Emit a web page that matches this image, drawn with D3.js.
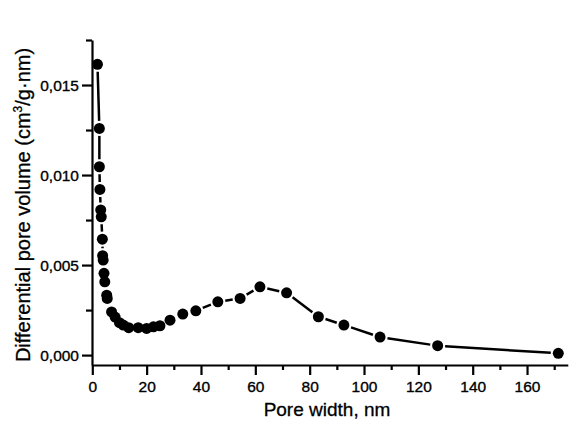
<!DOCTYPE html>
<html><head><meta charset="utf-8">
<script src="https://cdn.jsdelivr.net/npm/d3@7"></script>
<style>body{margin:0;background:#fff}svg{display:block}text{font-family:Arial,"Liberation Sans",sans-serif;fill:#000}</style>
</head><body><svg id="c" width="569" height="421"></svg>
<script>
const poreWidth = [1.9,2.6,2.6,2.8,3.1,3.3,3.7,3.8,4.0,4.3,4.6,5.3,5.5,7.1,8.4,10.0,11.4,13.4,16.9,20.0,22.5,24.9,28.6,33.3,38.1,46.2,54.4,61.7,71.5,83.2,92.6,105.9,127.1,171.5];
const diffVolume = [0.01615,0.01259,0.01046,0.0092,0.00806,0.00768,0.00644,0.00552,0.00528,0.00454,0.00407,0.00333,0.00315,0.0024,0.00211,0.0018,0.00167,0.00152,0.00152,0.00148,0.00157,0.00163,0.00194,0.00228,0.00246,0.00296,0.00315,0.00379,0.00346,0.00213,0.00167,0.001,0.00052,0.0001];
const xTickValues = [0,20,40,60,80,100,120,140,160];
const xMinorValues = [10,30,50,70,90,110,130,150,170];
const yTickValues = [0,0.005,0.010,0.015];
const yTickLabels = ["0,000","0,005","0,010","0,015"];
const yMinorValues = [0.0025,0.0075,0.0125,0.0175];
const xTitle = "Pore width, nm";

const svg = d3.select("#c");
const x = d3.scaleLinear().domain([0,175]).range([92.3,567.8]);
const y = d3.scaleLinear().domain([-0.00055,0.0175]).range([365,40]);

const gx = svg.append("g").attr("transform","translate(0,365)");
gx.call(d3.axisBottom(x).tickValues(xTickValues).tickSize(10).tickSizeOuter(0).tickFormat(d3.format("d")));
gx.append("g").call(d3.axisBottom(x).tickValues(xMinorValues).tickSize(5).tickFormat(""));
gx.selectAll("g > g path.domain").remove();
gx.selectAll("path.domain").attr("stroke","#000").attr("stroke-width",2.2);
gx.selectAll(".tick line").attr("stroke","#000").attr("stroke-width",2.2);
gx.selectAll(".tick text").attr("font-size",15.5).attr("dy",0).attr("y",27)
  .attr("stroke","#000").attr("stroke-width",0.35)
  .attr("font-family","Arial, 'Liberation Sans', sans-serif");

const gy = svg.append("g").attr("transform","translate(92,0)");
gy.call(d3.axisLeft(y).tickValues(yTickValues).tickSize(10).tickSizeOuter(0).tickFormat((d,i)=>yTickLabels[i]));
gy.append("g").call(d3.axisLeft(y).tickValues(yMinorValues).tickSize(6).tickFormat(""));
gy.selectAll("g > g path.domain").remove();
gy.selectAll("path.domain").attr("stroke","#000").attr("stroke-width",2.2);
gy.selectAll(".tick line").attr("stroke","#000").attr("stroke-width",2.2);
gy.selectAll(".tick text").attr("font-size",15.5).attr("x",-13).attr("dy","0.35em")
  .attr("stroke","#000").attr("stroke-width",0.35)
  .attr("font-family","Arial, 'Liberation Sans', sans-serif");

// line with gaps near markers
const pts = poreWidth.map((d,i)=>[x(d), y(diffVolume[i])]);
const gap = 7.5;
const segs = [];
for (let i=0;i<pts.length-1;i++){
  const [x1,y1]=pts[i],[x2,y2]=pts[i+1];
  const L=Math.hypot(x2-x1,y2-y1);
  if (L>2*gap+1){
    const ux=(x2-x1)/L, uy=(y2-y1)/L;
    segs.push([x1+ux*gap,y1+uy*gap,x2-ux*gap,y2-uy*gap]);
  }
}
svg.append("g").selectAll("line").data(segs).join("line")
  .attr("x1",d=>d[0]).attr("y1",d=>d[1]).attr("x2",d=>d[2]).attr("y2",d=>d[3])
  .attr("stroke","#000").attr("stroke-width",2.5);

svg.append("g").selectAll("circle").data(poreWidth).join("circle")
  .attr("cx",d=>x(d)).attr("cy",(d,i)=>y(diffVolume[i])).attr("r",5.5).attr("fill","#000");

svg.append("text").attr("x",327).attr("y",416).attr("text-anchor","middle")
  .attr("font-size",19).attr("stroke","#000").attr("stroke-width",0.3).text(xTitle);
const yt = svg.append("text").attr("transform","translate(30,205) rotate(-90)")
  .attr("text-anchor","middle").attr("font-size",20).attr("stroke","#000").attr("stroke-width",0.3);
yt.append("tspan").text("Differential pore volume (cm");
yt.append("tspan").attr("font-size",12).attr("dy",-8).text("3");
yt.append("tspan").attr("dy",8).text("/g·nm)");
</script></body></html>
